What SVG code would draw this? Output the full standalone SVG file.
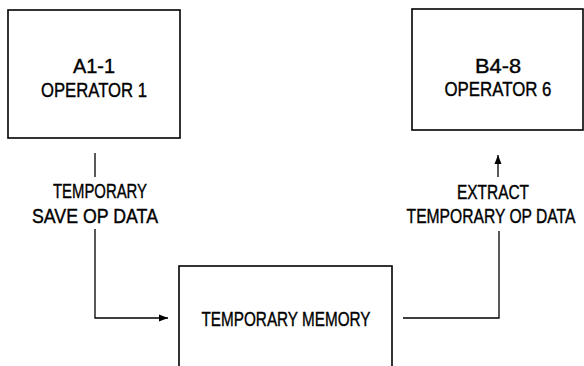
<svg xmlns="http://www.w3.org/2000/svg" width="584" height="366" viewBox="0 0 584 366">
<style>
.box{fill:#fff;stroke:#000;stroke-width:1.6}
.t{font-family:"Liberation Sans",Arial,sans-serif;font-size:21px;fill:#000;stroke:#000;stroke-width:0.4;text-anchor:middle}
.ln{fill:none;stroke:#000;stroke-width:1.3}
</style>
<defs>
<marker id="ah" markerWidth="10" markerHeight="8" refX="9" refY="4" orient="auto" markerUnits="userSpaceOnUse">
<path d="M0,0.5 L9,4 L0,7.5 Z" fill="#000"/>
</marker>
</defs>
<rect width="584" height="366" fill="#fff"/>
<g id="connectors">
<line class="ln" x1="95" y1="153" x2="95" y2="177"/>
<polyline class="ln" points="95,229 95,318 168,318" marker-end="url(#ah)"/>
<polyline class="ln" points="403,318 499,318 499,231"/>
<line class="ln" x1="498" y1="177" x2="498" y2="155" marker-end="url(#ah)"/>
<text class="t" x="100" y="198" textLength="94" lengthAdjust="spacingAndGlyphs">TEMPORARY</text>
<text class="t" x="95" y="223" textLength="126" lengthAdjust="spacingAndGlyphs">SAVE OP DATA</text>
<text class="t" x="493" y="199" textLength="72" lengthAdjust="spacingAndGlyphs">EXTRACT</text>
<text class="t" transform="translate(491,223) scale(0.745,1)" x="0" y="0">TEMPORARY OP DATA</text>
</g>
<g id="nodeA">
<rect class="box" x="8" y="10" width="172" height="128"/>
<text class="t" x="94" y="73" textLength="42" lengthAdjust="spacingAndGlyphs">A1-1</text>
<text class="t" x="94" y="97" textLength="106" lengthAdjust="spacingAndGlyphs">OPERATOR 1</text>
</g>
<g id="nodeB">
<rect class="box" x="412" y="9" width="171" height="121"/>
<text class="t" x="498" y="73" textLength="46" lengthAdjust="spacingAndGlyphs">B4-8</text>
<text class="t" x="498" y="96" textLength="107" lengthAdjust="spacingAndGlyphs">OPERATOR 6</text>
</g>
<g id="nodeMemory">
<rect class="box" x="179" y="266" width="213" height="110"/>
<text class="t" x="286" y="326" textLength="169" lengthAdjust="spacingAndGlyphs">TEMPORARY MEMORY</text>
</g>
</svg>
